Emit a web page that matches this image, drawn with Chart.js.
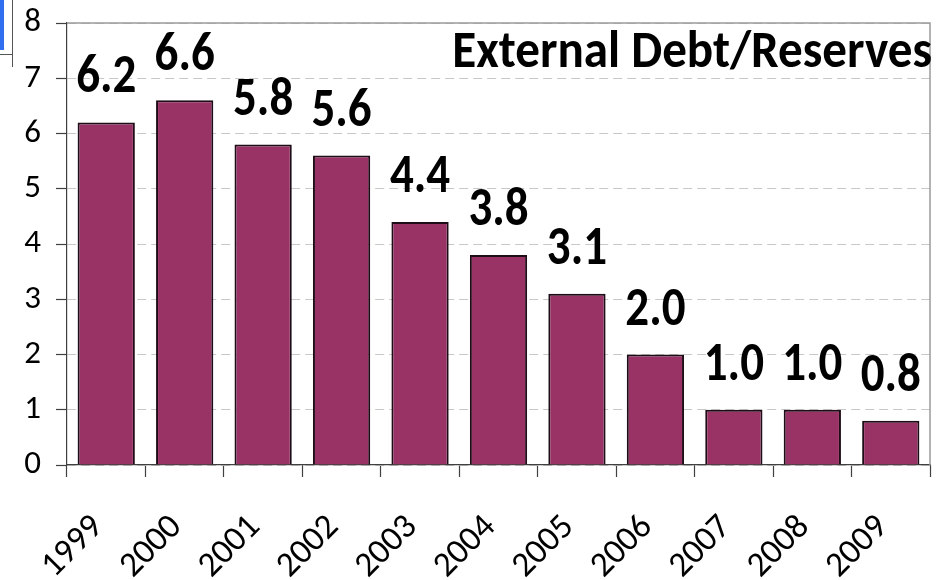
<!DOCTYPE html>
<html>
<head>
<meta charset="utf-8">
<script src="https://cdn.jsdelivr.net/npm/chart.js@4/dist/chart.umd.min.js"></script>
<style>
  html, body { margin: 0; padding: 0; background: #ffffff; }
  #wrap { position: relative; width: 951px; height: 580px; overflow: hidden; }
  #c { position: absolute; left: 0; top: 0; }
  .blue { position: absolute; left: 0; top: 0; width: 4px; height: 50px; background: #2f6ff0; }
  .vline { position: absolute; left: 12px; top: 0; width: 1px; height: 67px; background: #555; }
  .hline { position: absolute; left: 0; top: 54px; width: 13px; height: 1px; background: #555; }
</style>
</head>
<body>
<div id="wrap">
  <canvas id="c" width="951" height="580"></canvas>
  <div class="blue"></div><div class="vline"></div><div class="hline"></div>
</div>
<script>
const years = ["1999","2000","2001","2002","2003","2004","2005","2006","2007","2008","2009"];
const debtToReserves = [6.2, 6.6, 5.8, 5.6, 4.4, 3.8, 3.1, 2.0, 1.0, 1.0, 0.8];
const chartTitle = "External Debt/Reserves";

const FONT = "Carlito, Calibri, Lato, sans-serif";

const valueLabels = {
  id: 'valueLabels',
  afterDatasetsDraw(chart) {
    const ctx = chart.ctx;
    const meta = chart.getDatasetMeta(0);
    ctx.save();
    ctx.font = "bold 47px " + FONT;
    ctx.fillStyle = "#000";
    ctx.textAlign = "center";
    ctx.textBaseline = "alphabetic";
    meta.data.forEach((bar, i) => {
      ctx.save();
      ctx.translate(bar.x, bar.y - 30);
      ctx.scale(1, 1.15);
      ctx.fillText(debtToReserves[i].toFixed(1), 0, 0);
      ctx.restore();
    });
    ctx.restore();
  }
};

const frameAndTitle = {
  id: 'frameAndTitle',
  afterDraw(chart) {
    const ctx = chart.ctx;
    const a = chart.chartArea;
    ctx.save();
    ctx.strokeStyle = "#9a9a9a";
    ctx.lineWidth = 1.5;
    ctx.beginPath();
    ctx.moveTo(a.left, a.top);
    ctx.lineTo(a.right, a.top);
    ctx.lineTo(a.right, a.bottom);
    ctx.stroke();
    let size = 48;
    ctx.font = "bold " + size + "px " + FONT;
    const w = ctx.measureText(chartTitle).width;
    size = size * 480 / w;
    ctx.font = "bold " + size.toFixed(1) + "px " + FONT;
    ctx.fillStyle = "#000";
    ctx.textAlign = "right";
    ctx.textBaseline = "alphabetic";
    ctx.save();
    ctx.translate(a.right + 2, 67);
    ctx.scale(1, 1.07);
    ctx.fillText(chartTitle, 0, 0);
    ctx.restore();
    ctx.restore();
  }
};

function noPad(scale) {
  scale.paddingTop = 0; scale.paddingBottom = 0;
  scale.paddingLeft = 0; scale.paddingRight = 0;
}

new Chart(document.getElementById('c'), {
  type: 'bar',
  data: {
    labels: years,
    datasets: [{
      data: debtToReserves,
      backgroundColor: '#993366',
      borderColor: '#1e0c16',
      borderWidth: 2,
      categoryPercentage: 1.0,
      barPercentage: 0.73
    }]
  },
  options: {
    responsive: false,
    animation: false,
    devicePixelRatio: 1,
    layout: { padding: { top: 23, right: 21, left: 0, bottom: 0 } },
    plugins: { legend: { display: false }, tooltip: { enabled: false }, title: { display: false } },
    scales: {
      x: {
        grid: { display: true, drawOnChartArea: false, drawTicks: true, tickLength: 12, tickColor: '#404040', tickWidth: 1.2, offset: true },
        border: { display: true, color: '#404040', width: 1.2 },
        ticks: {
          autoSkip: false, minRotation: 45, maxRotation: 45,
          padding: 30, labelOffset: -8,
          color: '#000', font: { family: FONT, size: 35 }
        },
        afterFit(scale) { scale.height = 115; noPad(scale); }
      },
      y: {
        min: 0, max: 8,
        grid: { color: '#c8c8c8', lineWidth: 1, tickLength: 11, tickColor: '#404040', tickWidth: 1.2 },
        border: { display: true, color: '#404040', width: 1.2, dash: [9, 5] },
        ticks: { stepSize: 1, padding: 15, color: '#000', font: { family: FONT, size: 33 } },
        afterFit(scale) { scale.width = 67; noPad(scale); }
      }
    }
  },
  plugins: [valueLabels, frameAndTitle]
});
</script>
</body>
</html>
